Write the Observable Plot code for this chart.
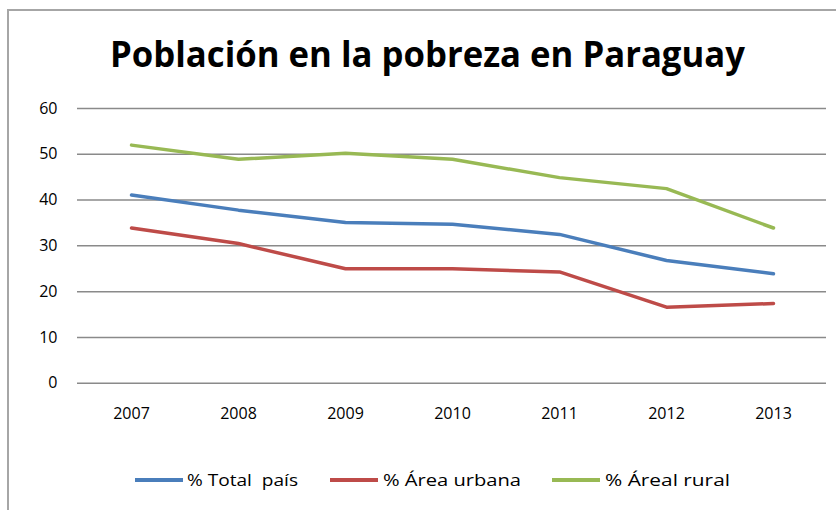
<!DOCTYPE html>
<html>
<head>
<meta charset="utf-8">
<script src="https://cdn.jsdelivr.net/npm/d3@7"></script>
<script src="https://cdn.jsdelivr.net/npm/@observablehq/plot@0.6"></script>
<style>
  html, body { margin: 0; padding: 0; background: #fff; }
  body { width: 836px; height: 510px; position: relative; overflow: hidden; font-family: "Open Sans", sans-serif; }
  #frame { position: absolute; left: 7px; top: 9px; width: 850px; height: 520px; border-top: 2px solid #a6a6a6; border-left: 2px solid #a6a6a6; }
  #title { position: absolute; left: 110px; top: 36px; font-size: 35px; line-height: 1; font-weight: 700; color: #000; white-space: nowrap; transform-origin: 0 0; }
  #chart { position: absolute; left: 0; top: 90px; }
  .swatch { position: absolute; top: 478px; width: 48px; height: 4px; }
  .label { position: absolute; top: 469px; font-size: 16px; line-height: 22px; color: #000; white-space: pre; transform-origin: 0 50%; }
</style>
</head>
<body>
<div id="frame"></div>
<div id="title">Población en la pobreza en Paraguay</div>
<div id="chart"></div>
<div id="legend"></div>
<script>
const years = ["2007", "2008", "2009", "2010", "2011", "2012", "2013"];
const totalPais = [41.1, 37.8, 35.1, 34.7, 32.5, 26.8, 23.9];
const areaUrbana = [33.9, 30.5, 25.0, 25.0, 24.3, 16.6, 17.4];
const areaRural = [52.0, 48.9, 50.2, 48.9, 44.9, 42.5, 33.9];
const seriesNames = ["% Total  país", "% Área urbana", "% Áreal rural"];
const seriesColors = ["#4a7ebb", "#be4b48", "#98b954"];
const yTicks = [0, 10, 20, 30, 40, 50, 60];

const seriesValues = [totalPais, areaUrbana, areaRural];
const data = [];
seriesValues.forEach((arr, i) => arr.forEach((v, j) => data.push({ year: years[j], value: v, series: seriesNames[i] })));

const chart = Plot.plot({
  width: 836,
  height: 340,
  marginTop: 18,
  marginBottom: 47.3,
  marginLeft: 77,
  marginRight: 10,
  x: { type: "point", domain: years, padding: 0.5, label: null },
  y: { domain: [0, 60], label: null },
  color: { domain: seriesNames, range: seriesColors },
  style: { fontFamily: "Open Sans, sans-serif", fontSize: "16px", color: "#000", background: "transparent", overflow: "visible" },
  marks: [
    Plot.ruleY(yTicks, { stroke: "#8a8a8a", strokeWidth: 1.5 }),
    Plot.axisY({ ticks: yTicks, tickSize: 0, tickPadding: 20, label: null }),
    Plot.axisX({ tickSize: 0, tickPadding: 24, label: null }),
    Plot.line(data, { x: "year", y: "value", stroke: "series", strokeWidth: 3.5, strokeLinejoin: "round", strokeLinecap: "round" })
  ]
});
document.getElementById("chart").appendChild(chart);

// legend: swatch start, label start, label end (px)
const legendPos = [[135, 187, 298], [330, 383, 521], [552, 605, 730]];
const legend = document.getElementById("legend");
seriesNames.forEach((name, i) => {
  const [sx, lx, ex] = legendPos[i];
  const sw = document.createElement("span");
  sw.className = "swatch";
  sw.style.left = sx + "px";
  sw.style.background = seriesColors[i];
  const label = document.createElement("span");
  label.className = "label";
  label.style.left = lx + "px";
  label.textContent = name;
  legend.appendChild(sw);
  legend.appendChild(label);
  const lw = label.getBoundingClientRect().width;
  label.style.transform = `scaleX(${(ex - lx) / lw})`;
});

// fit title width to reference span
const title = document.getElementById("title");
const w = title.getBoundingClientRect().width;
title.style.transform = `scaleX(${635 / w})`;
</script>
</body>
</html>
